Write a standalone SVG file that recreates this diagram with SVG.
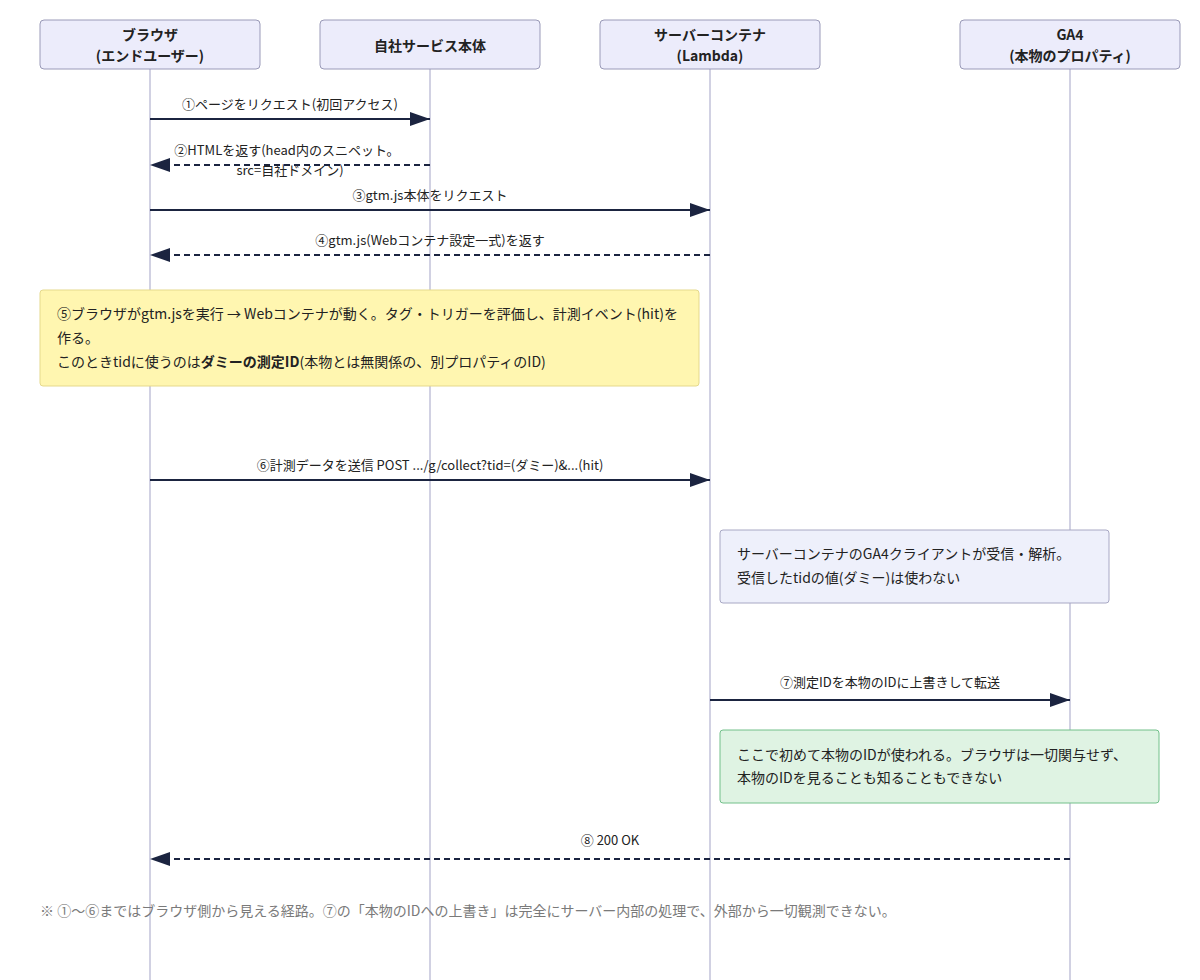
<svg xmlns="http://www.w3.org/2000/svg" width="1200" height="980" viewBox="0 0 1200 980">
<style>
text{font-family:"Noto Sans CJK JP","Noto Sans",sans-serif;}
.actor rect{fill:#ececfb;stroke:#9a9ab8;stroke-width:1;}
.actor text{font-size:14px;font-weight:bold;fill:#222;text-anchor:middle;}
.life{stroke:#a3a3c6;stroke-width:1;}
.msg{stroke:#1b2440;stroke-width:2;fill:none;}
.dash{stroke-dasharray:6,4;}
.lbl{font-size:13px;fill:#222;text-anchor:middle;}
.note text{font-size:14px;fill:#222;}
.foot{font-size:14px;fill:#7a7a7a;}
</style>
<defs>
<marker id="ah" viewBox="0 0 20 14" refX="20" refY="7" markerWidth="20" markerHeight="14" markerUnits="userSpaceOnUse" orient="auto">
<path d="M0,0 L20,7 L0,14 z" fill="#1b2440"/>
</marker>
</defs>
<g id="lifelines">
<line class="life" x1="150" y1="69" x2="150" y2="980"/>
<line class="life" x1="430" y1="69" x2="430" y2="980"/>
<line class="life" x1="710" y1="69" x2="710" y2="980"/>
<line class="life" x1="1070" y1="69" x2="1070" y2="980"/>
</g>
<g id="browser" class="actor"><rect x="40" y="20" width="220" height="49" rx="4"/><text x="150" y="40">ブラウザ</text><text x="150" y="61">(エンドユーザー)</text></g>
<g id="service" class="actor"><rect x="320" y="20" width="220" height="49" rx="4"/><text x="430" y="51">自社サービス本体</text></g>
<g id="server" class="actor"><rect x="600" y="20" width="220" height="49" rx="4"/><text x="710" y="40">サーバーコンテナ</text><text x="710" y="61">(Lambda)</text></g>
<g id="ga4" class="actor"><rect x="960" y="20" width="220" height="49" rx="4"/><text x="1070" y="40">GA4</text><text x="1070" y="61">(本物のプロパティ)</text></g>
<g id="note5" class="note"><rect x="40" y="290" width="659" height="96" rx="3" fill="#fff6b0" stroke="#e5d98c"/>
<text x="57" y="319">⑤ブラウザがgtm.jsを実行 → Webコンテナが動く。タグ・トリガーを評価し、計測イベント(hit)を</text>
<text x="57" y="343">作る。</text>
<text x="57" y="367">このときtidに使うのは<tspan font-weight="bold">ダミーの測定ID</tspan>(本物とは無関係の、別プロパティのID)</text></g>
<g id="noteParse" class="note"><rect x="720" y="530" width="389" height="73" rx="3" fill="#eef0fb" stroke="#a8a8c4"/>
<text x="737" y="559">サーバーコンテナのGA4クライアントが受信・解析。</text>
<text x="737" y="583">受信したtidの値(ダミー)は使わない</text></g>
<g id="noteReal" class="note"><rect x="720" y="730" width="439" height="73" rx="3" fill="#dff3e3" stroke="#72c08a"/>
<text x="737" y="760">ここで初めて本物のIDが使われる。ブラウザは一切関与せず、</text>
<text x="737" y="783">本物のIDを見ることも知ることもできない</text></g>
<g id="connectors">
<line class="msg" x1="150" y1="119" x2="430" y2="119" marker-end="url(#ah)"/>
<text class="lbl" x="290" y="109">①ページをリクエスト(初回アクセス)</text>
<line class="msg dash" x1="430" y1="165" x2="150" y2="165" marker-end="url(#ah)"/>
<text class="lbl" x="287" y="155">②HTMLを返す(head内のスニペット。</text>
<text class="lbl" x="290" y="175">src=自社ドメイン)</text>
<line class="msg" x1="150" y1="210" x2="710" y2="210" marker-end="url(#ah)"/>
<text class="lbl" x="430" y="200">③gtm.js本体をリクエスト</text>
<line class="msg dash" x1="710" y1="255" x2="150" y2="255" marker-end="url(#ah)"/>
<text class="lbl" x="430" y="245">④gtm.js(Webコンテナ設定一式)を返す</text>
<line class="msg" x1="150" y1="480" x2="710" y2="480" marker-end="url(#ah)"/>
<text class="lbl" x="430" y="470">⑥計測データを送信 POST .../g/collect?tid=(ダミー)&amp;...(hit)</text>
<line class="msg" x1="710" y1="700" x2="1070" y2="700" marker-end="url(#ah)"/>
<text class="lbl" x="890" y="687">⑦測定IDを本物のIDに上書きして転送</text>
<line class="msg dash" x1="1070" y1="859" x2="150" y2="859" marker-end="url(#ah)"/>
<text class="lbl" x="610" y="845">⑧ 200 OK</text>
</g>
<text class="foot" x="40" y="916">※ ①〜⑥まではブラウザ側から見える経路。⑦の「本物のIDへの上書き」は完全にサーバー内部の処理で、外部から一切観測できない。</text>
</svg>
